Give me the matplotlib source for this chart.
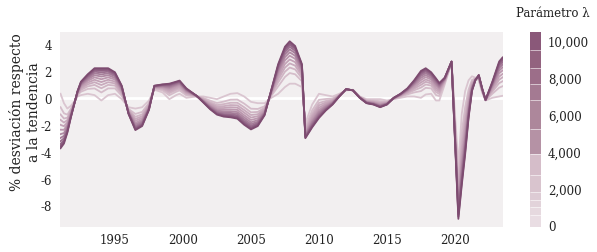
import matplotlib
matplotlib.use("Agg")
import matplotlib.pyplot as plt
from matplotlib.colors import ListedColormap, BoundaryNorm
from matplotlib.colorbar import ColorbarBase
from matplotlib.ticker import FuncFormatter, NullLocator

plt.rcParams['font.family'] = ['DejaVu Serif']

# fechas (años decimales) de los puntos leídos
dates = [1991.0, 1991.25, 1991.5, 1991.75, 1992.0, 1992.25, 1992.5, 1993.0, 1993.5, 1994.0,
         1994.5, 1995.0, 1995.5, 1996.0, 1996.5, 1997.0, 1997.5, 1997.9, 1998.5, 1999.0,
         1999.5, 1999.75, 2000.25, 2001.0, 2001.5, 2002.0, 2002.5, 2003.0, 2003.5, 2004.0,
         2004.5, 2005.0, 2005.5, 2006.0, 2006.5, 2007.0, 2007.5, 2007.85, 2008.25, 2008.75,
         2009.0, 2009.5, 2010.0, 2010.5, 2011.0, 2011.5, 2012.0, 2012.5, 2013.0, 2013.5,
         2014.0, 2014.5, 2015.0, 2015.5, 2016.0, 2016.5, 2017.0, 2017.5, 2017.85, 2018.25,
         2018.6, 2018.85, 2019.25, 2019.75, 2020.25, 2020.5, 2020.75, 2021.0, 2021.25, 2021.5,
         2021.75, 2022.0, 2022.25, 2022.75, 2023.25, 2023.5]

# valores de lambda de cada línea y límites de la barra de color
lambdas = [250, 780, 1200, 1600, 2250, 3300, 4550, 6000, 7200, 8100, 9000, 10000]
bounds = [-80, 550, 1000, 1400, 1820, 2720, 3890, 5250, 6790, 7650, 8550, 9500, 10490]

# % desviación respecto a la tendencia, una lista por lambda
cyc_250 = [0.3, -0.4, -0.8, -0.6, -0.3, 0.1, 0.2, 0.3, 0.2, -0.2,
           0.2, 0.3, -0.1, -0.7, -0.8, -0.7, -0.2, 0.6, 0.4, -0.1,
           0.2, 0.3, 0.0, 0.1, 0.1, 0.0, -0.1, 0.1, 0.3, 0.35,
           0.1, -0.3, -0.4, -0.4, 0.0, 0.3, 0.8, 1.05, 1.05, 0.8,
           -1.9, -0.5, 0.3, 0.2, 0.1, 0.3, 0.55, 0.6, 0.1, -0.1,
           -0.1, -0.1, -0.2, -0.1, 0.0, 0.1, 0.1, 0.0, 0.25, 0.3,
           -0.2, -0.2, 1.0, 2.6, -5.0, -1.2, 0.5, 1.3, 1.6, 1.5,
           1.3, 0.4, -0.2, 0.0, 0.1, 0.15]
cyc_780 = [-0.7, -1.15, -1.25, -0.83, -0.35, 0.2, 0.45, 0.66, 0.7, 0.4,
           0.7, 0.7, 0.15, -0.83, -1.2, -1.05, -0.38, 0.68, 0.55, 0.19,
           0.45, 0.55, 0.18, 0.11, -0.01, -0.21, -0.39, -0.28, -0.14, -0.13,
           -0.43, -0.81, -0.83, -0.63, 0.15, 0.85, 1.55, 1.84, 1.75, 1.23,
           -2.18, -0.93, -0.15, -0.09, -0.05, 0.25, 0.58, 0.59, 0.08, -0.18,
           -0.2, -0.25, -0.28, -0.08, 0.08, 0.25, 0.4, 0.5, 0.74, 0.7,
           0.21, 0.13, 1.13, 2.63, -6.0, -2.53, -0.68, 0.6, 1.33, 1.45,
           1.4, 0.48, -0.19, 0.3, 0.75, 0.86]
cyc_1200 = [-1.24, -1.54, -1.48, -0.94, -0.38, 0.25, 0.58, 0.85, 0.96, 0.71,
            0.96, 0.91, 0.28, -0.89, -1.41, -1.23, -0.47, 0.71, 0.63, 0.34,
            0.58, 0.67, 0.27, 0.12, -0.07, -0.32, -0.54, -0.47, -0.37, -0.37,
            -0.7, -1.08, -1.05, -0.74, 0.23, 1.14, 1.94, 2.25, 2.11, 1.45,
            -2.32, -1.15, -0.38, -0.24, -0.13, 0.22, 0.59, 0.58, 0.06, -0.21,
            -0.25, -0.33, -0.31, -0.06, 0.11, 0.33, 0.56, 0.76, 0.99, 0.91,
            0.43, 0.29, 1.19, 2.64, -6.52, -3.21, -1.29, 0.24, 1.18, 1.42,
            1.45, 0.51, -0.18, 0.46, 1.09, 1.23]
cyc_1600 = [-1.64, -1.84, -1.66, -1.03, -0.4, 0.29, 0.68, 1.0, 1.16, 0.95,
            1.16, 1.07, 0.38, -0.94, -1.57, -1.37, -0.54, 0.74, 0.69, 0.45,
            0.68, 0.77, 0.34, 0.12, -0.12, -0.41, -0.65, -0.62, -0.54, -0.56,
            -0.91, -1.28, -1.22, -0.83, 0.29, 1.36, 2.24, 2.56, 2.39, 1.62,
            -2.43, -1.32, -0.56, -0.35, -0.19, 0.2, 0.6, 0.58, 0.05, -0.24,
            -0.29, -0.39, -0.34, -0.05, 0.14, 0.39, 0.68, 0.96, 1.19, 1.07,
            0.59, 0.42, 1.24, 2.65, -6.92, -3.74, -1.76, -0.04, 1.07, 1.4,
            1.49, 0.54, -0.18, 0.58, 1.35, 1.52]
cyc_2250 = [-2.01, -2.11, -1.83, -1.11, -0.41, 0.33, 0.77, 1.13, 1.34, 1.17,
            1.34, 1.21, 0.47, -0.99, -1.71, -1.5, -0.6, 0.77, 0.74, 0.56,
            0.77, 0.86, 0.4, 0.13, -0.16, -0.48, -0.76, -0.76, -0.7, -0.73,
            -1.1, -1.47, -1.37, -0.91, 0.34, 1.55, 2.51, 2.85, 2.65, 1.77,
            -2.53, -1.47, -0.73, -0.46, -0.24, 0.19, 0.61, 0.57, 0.04, -0.27,
            -0.33, -0.44, -0.37, -0.04, 0.17, 0.44, 0.78, 1.14, 1.36, 1.21,
            0.74, 0.54, 1.29, 2.66, -7.28, -4.22, -2.18, -0.3, 0.97, 1.39,
            1.53, 0.57, -0.17, 0.68, 1.58, 1.77]
cyc_3300 = [-2.37, -2.38, -1.99, -1.19, -0.43, 0.36, 0.86, 1.26, 1.52, 1.38,
            1.52, 1.36, 0.56, -1.03, -1.86, -1.62, -0.66, 0.8, 0.8, 0.66,
            0.86, 0.95, 0.46, 0.13, -0.2, -0.56, -0.86, -0.89, -0.86, -0.9,
            -1.29, -1.65, -1.52, -0.99, 0.4, 1.75, 2.78, 3.13, 2.9, 1.92,
            -2.63, -1.62, -0.89, -0.56, -0.3, 0.17, 0.62, 0.57, 0.03, -0.3,
            -0.36, -0.5, -0.4, -0.03, 0.2, 0.5, 0.89, 1.32, 1.54, 1.36,
            0.89, 0.66, 1.33, 2.67, -7.64, -4.7, -2.6, -0.55, 0.87, 1.37,
            1.56, 0.6, -0.17, 0.79, 1.82, 2.03]
cyc_4550 = [-2.7, -2.62, -2.13, -1.27, -0.45, 0.4, 0.94, 1.37, 1.68, 1.58,
            1.68, 1.48, 0.64, -1.07, -1.98, -1.74, -0.72, 0.82, 0.84, 0.75,
            0.94, 1.03, 0.52, 0.14, -0.23, -0.63, -0.95, -1.01, -1.0, -1.06,
            -1.45, -1.82, -1.66, -1.07, 0.44, 1.93, 3.02, 3.38, 3.12, 2.06,
            -2.71, -1.76, -1.03, -0.65, -0.34, 0.15, 0.62, 0.56, 0.03, -0.32,
            -0.4, -0.54, -0.42, -0.03, 0.22, 0.54, 0.99, 1.48, 1.69, 1.48,
            1.02, 0.76, 1.37, 2.67, -7.96, -5.12, -2.98, -0.77, 0.79, 1.35,
            1.6, 0.62, -0.16, 0.89, 2.02, 2.26]
cyc_6000 = [-2.98, -2.83, -2.26, -1.33, -0.46, 0.42, 1.01, 1.47, 1.82, 1.74,
            1.82, 1.6, 0.71, -1.11, -2.1, -1.83, -0.77, 0.84, 0.89, 0.83,
            1.01, 1.09, 0.57, 0.14, -0.26, -0.69, -1.03, -1.12, -1.12, -1.19,
            -1.6, -1.96, -1.78, -1.13, 0.49, 2.08, 3.23, 3.6, 3.32, 2.18,
            -2.79, -1.88, -1.16, -0.73, -0.39, 0.14, 0.63, 0.56, 0.02, -0.34,
            -0.42, -0.59, -0.44, -0.02, 0.24, 0.59, 1.07, 1.62, 1.83, 1.6,
            1.14, 0.85, 1.41, 2.68, -8.24, -5.49, -3.31, -0.97, 0.71, 1.34,
            1.62, 0.64, -0.16, 0.97, 2.21, 2.46]
cyc_7200 = [-3.22, -3.01, -2.37, -1.38, -0.47, 0.45, 1.07, 1.56, 1.94, 1.89,
            1.94, 1.69, 0.77, -1.14, -2.19, -1.92, -0.81, 0.86, 0.92, 0.9,
            1.07, 1.15, 0.61, 0.14, -0.29, -0.74, -1.1, -1.21, -1.22, -1.3,
            -1.73, -2.08, -1.88, -1.18, 0.52, 2.21, 3.41, 3.79, 3.49, 2.28,
            -2.86, -1.98, -1.27, -0.8, -0.42, 0.13, 0.64, 0.56, 0.01, -0.36,
            -0.45, -0.62, -0.46, -0.01, 0.26, 0.62, 1.14, 1.74, 1.95, 1.69,
            1.24, 0.93, 1.44, 2.69, -8.48, -5.81, -3.59, -1.14, 0.64, 1.33,
            1.65, 0.66, -0.16, 1.04, 2.36, 2.63]
cyc_8100 = [-3.43, -3.16, -2.46, -1.43, -0.48, 0.47, 1.12, 1.63, 2.04, 2.01,
            2.04, 1.77, 0.82, -1.16, -2.27, -1.99, -0.84, 0.88, 0.95, 0.96,
            1.12, 1.2, 0.64, 0.15, -0.31, -0.78, -1.16, -1.28, -1.31, -1.4,
            -1.83, -2.19, -1.96, -1.23, 0.55, 2.32, 3.56, 3.95, 3.63, 2.36,
            -2.91, -2.06, -1.36, -0.86, -0.45, 0.12, 0.64, 0.55, 0.01, -0.38,
            -0.47, -0.65, -0.48, -0.01, 0.28, 0.65, 1.2, 1.84, 2.04, 1.77,
            1.32, 1.0, 1.46, 2.69, -8.68, -6.08, -3.82, -1.28, 0.59, 1.32,
            1.67, 0.68, -0.15, 1.1, 2.49, 2.77]
cyc_9000 = [-3.59, -3.28, -2.53, -1.46, -0.49, 0.48, 1.16, 1.69, 2.12, 2.1,
            2.12, 1.84, 0.86, -1.18, -2.34, -2.04, -0.87, 0.89, 0.98, 1.0,
            1.16, 1.24, 0.67, 0.15, -0.33, -0.82, -1.2, -1.34, -1.38, -1.47,
            -1.92, -2.27, -2.03, -1.26, 0.58, 2.41, 3.68, 4.07, 3.74, 2.43,
            -2.96, -2.13, -1.43, -0.9, -0.48, 0.11, 0.65, 0.55, 0.0, -0.39,
            -0.48, -0.68, -0.49, 0.0, 0.29, 0.68, 1.25, 1.92, 2.12, 1.84,
            1.38, 1.05, 1.48, 2.7, -8.84, -6.29, -4.01, -1.39, 0.54, 1.31,
            1.68, 0.69, -0.15, 1.15, 2.6, 2.89]
cyc_10000 = [-3.75, -3.4, -2.6, -1.5, -0.5, 0.5, 1.2, 1.75, 2.2, 2.2,
             2.2, 1.9, 0.9, -1.2, -2.4, -2.1, -0.9, 0.9, 1.0, 1.05,
             1.2, 1.28, 0.7, 0.15, -0.35, -0.85, -1.25, -1.4, -1.45, -1.55,
             -2.0, -2.35, -2.1, -1.3, 0.6, 2.5, 3.8, 4.2, 3.85, 2.5,
             -3.0, -2.2, -1.5, -0.95, -0.5, 0.1, 0.65, 0.55, 0.0, -0.4,
             -0.5, -0.7, -0.5, 0.0, 0.3, 0.7, 1.3, 2.0, 2.2, 1.9,
             1.45, 1.1, 1.5, 2.7, -9.0, -6.5, -4.2, -1.5, 0.5, 1.3,
             1.7, 0.7, -0.15, 1.2, 2.7, 3.0]

series = [cyc_250, cyc_780, cyc_1200, cyc_1600, cyc_2250, cyc_3300,
          cyc_4550, cyc_6000, cyc_7200, cyc_8100, cyc_9000, cyc_10000]

year_ticks = [1995, 2000, 2005, 2010, 2015, 2020]
y_ticks = [4, 2, 0, -2, -4, -6, -8]
cbar_ticks = [0, 2000, 4000, 6000, 8000, 10000]

line_colors = ['#dac5d0', '#d5bdca', '#d0b5c4', '#c9abbd', '#c3a2b6', '#bc98af',
               '#b08aa3', '#a67e9a', '#9c7190', '#926587', '#89597d', '#7d4b70']
cbar_colors = ['#e9dde3', '#e6d9df', '#e2d3da', '#ddcbd4', '#d9c4ce', '#d5bdc9',
               '#b592a5', '#ad879b', '#a47a92', '#9c6e89', '#93637f', '#8a5879']

norm = BoundaryNorm(bounds, len(cbar_colors))
line_cmap = ListedColormap(line_colors)
bar_cmap = ListedColormap(cbar_colors)

fig = plt.figure(figsize=(5.97, 2.53), dpi=100)
ax = fig.add_axes([0.1005, 0.099, 0.742, 0.771])
ax.set_facecolor('#f2eff0')

ax.axhline(0, color='white', lw=2, zorder=1)
for lam, vals in zip(lambdas, series):
    ax.plot(dates, vals, color=line_cmap(norm(lam)), lw=1.3, zorder=2,
            solid_joinstyle='round')

ax.set_xlim(1990.96, 2023.53)
ax.set_ylim(-9.6, 4.9)
ax.set_xticks(year_ticks)
ax.set_yticks(y_ticks)
ax.set_yticklabels([str(v) for v in y_ticks])
ax.tick_params(length=0, labelsize=8.5, colors='#222222')
ax.tick_params(axis='y', pad=6)
ax.tick_params(axis='x', pad=4)
for s in ax.spines.values():
    s.set_visible(False)

fig.text(0.042, 0.555, '% desviación respecto\na la tendencia', rotation=90,
         ha='center', va='center', multialignment='center', fontsize=10,
         color='#222222')

# barra de color discreta
cax = fig.add_axes([0.8878, 0.099, 0.0184, 0.771])
cb = ColorbarBase(cax, cmap=bar_cmap, norm=norm, boundaries=bounds,
                  spacing='proportional', ticks=cbar_ticks, drawedges=True)
cb.outline.set_visible(False)
cb.dividers.set_color('white')
cb.dividers.set_linewidth(0.4)
cb.ax.yaxis.set_minor_locator(NullLocator())
cb.ax.yaxis.set_major_formatter(FuncFormatter(lambda v, p: f'{int(v):,}'))
cb.ax.tick_params(which='both', length=0, labelsize=8.5, pad=5, colors='#222222')
fig.text(0.926, 0.945, 'Parámetro λ', ha='center', va='center', fontsize=8.5,
         color='#222222')

fig.savefig('out.png', dpi=100)
